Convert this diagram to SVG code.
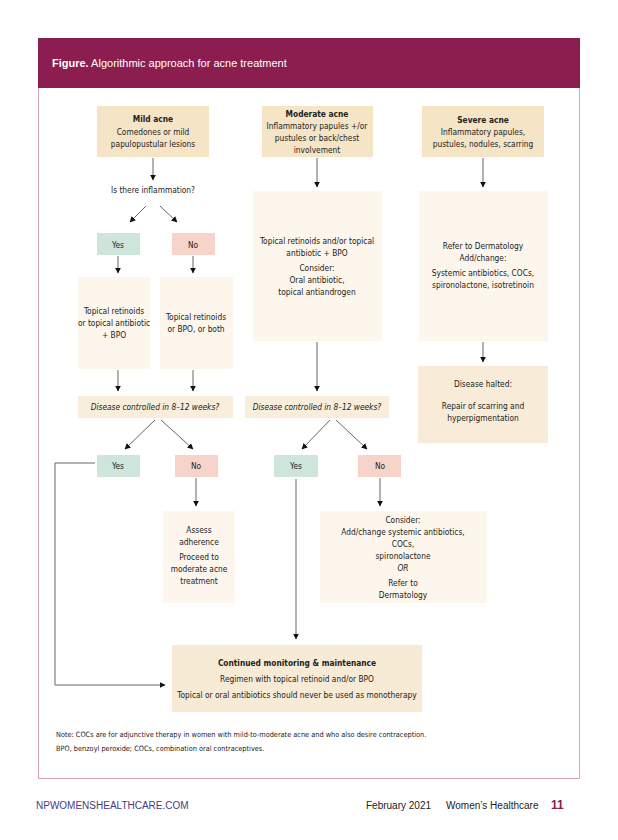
<svg xmlns="http://www.w3.org/2000/svg" width="618" height="840" viewBox="0 0 618 840">
<style>
text{font-family:"Liberation Sans Narrow","DejaVu Sans Condensed","Liberation Sans",Arial,sans-serif;font-size:8.3px;fill:#222;text-anchor:middle}
.b{font-weight:bold}
.i{font-style:italic}
.tan{fill:#f5e5c6}
.cream{fill:#fdf6ec}
.dc{fill:#f8eedb}
.yes{fill:#cde5da}
.no{fill:#f7d4ca}
.ln{stroke:#666;stroke-width:1;fill:none}
.note{text-anchor:start;font-size:7.3px}
.foot{font-family:"Liberation Sans",Arial,sans-serif;font-size:10px;text-anchor:start}
</style>
<defs>
<marker id="ah" viewBox="0 0 10 10" refX="9" refY="5" markerWidth="6" markerHeight="6" orient="auto" markerUnits="userSpaceOnUse">
<path d="M0,0 L10,5 L0,10 z" fill="#111"/>
</marker>
</defs>
<rect width="618" height="840" fill="#fff"/>
<rect x="38.5" y="38.5" width="541" height="740" fill="none" stroke="#dba3bb" stroke-width="1"/>
<rect x="38" y="38" width="542" height="50" fill="#8b1e4f"/>
<text x="52" y="67" style="text-anchor:start;font-family:'Liberation Sans',Arial,sans-serif;font-size:11px;fill:#fff"><tspan font-weight="bold">Figure.</tspan> Algorithmic approach for acne treatment</text>

<g id="mild">
<rect class="tan" x="97" y="106" width="112" height="51"/>
<text x="153" y="122" class="b">Mild acne</text>
<text x="153" y="135">Comedones or mild</text>
<text x="153" y="147">papulopustular lesions</text>
</g>
<g id="inflam"><text x="153" y="193">Is there inflammation?</text></g>
<g id="yes1"><rect class="yes" x="97" y="233" width="43" height="22"/><text x="118" y="248">Yes</text></g>
<g id="no1"><rect class="no" x="172" y="233" width="43" height="22"/><text x="193" y="248">No</text></g>
<g id="top1">
<rect class="cream" x="78" y="277" width="72" height="92"/>
<text x="114" y="314">Topical retinoids</text>
<text x="114" y="326">or topical antibiotic</text>
<text x="114" y="338">+ BPO</text>
</g>
<g id="top2">
<rect class="cream" x="160" y="277" width="73" height="92"/>
<text x="196" y="320">Topical retinoids</text>
<text x="196" y="332">or BPO, or both</text>
</g>
<g id="dc1"><rect class="dc" x="78" y="396" width="155" height="22"/><text x="155" y="410" class="i">Disease controlled in 8–12 weeks?</text></g>
<g id="yes2"><rect class="yes" x="97" y="455" width="43" height="22"/><text x="118" y="469">Yes</text></g>
<g id="no2"><rect class="no" x="175" y="455" width="43" height="22"/><text x="196" y="469">No</text></g>
<g id="assess">
<rect class="cream" x="163" y="511" width="72" height="92"/>
<text x="199" y="533">Assess</text>
<text x="199" y="545">adherence</text>
<text x="199" y="560">Proceed to</text>
<text x="199" y="572">moderate acne</text>
<text x="199" y="584">treatment</text>
</g>

<g id="moderate">
<rect class="tan" x="262" y="106" width="111" height="51"/>
<text x="317" y="117" class="b">Moderate acne</text>
<text x="317" y="129">Inflammatory papules +/or</text>
<text x="317" y="141">pustules or back/chest</text>
<text x="317" y="153">involvement</text>
</g>
<g id="modtx">
<rect class="cream" x="253" y="191" width="129" height="150"/>
<text x="317" y="244">Topical retinoids and/or topical</text>
<text x="317" y="256">antibiotic + BPO</text>
<text x="317" y="271">Consider:</text>
<text x="317" y="283">Oral antibiotic,</text>
<text x="317" y="295">topical antiandrogen</text>
</g>
<g id="dc2"><rect class="dc" x="245" y="396" width="144" height="22"/><text x="317" y="410" class="i">Disease controlled in 8–12 weeks?</text></g>
<g id="yes3"><rect class="yes" x="274" y="455" width="44" height="22"/><text x="296" y="469">Yes</text></g>
<g id="no3"><rect class="no" x="358" y="455" width="43" height="22"/><text x="380" y="469">No</text></g>
<g id="consider">
<rect class="cream" x="320" y="511" width="167" height="92"/>
<text x="403" y="523">Consider:</text>
<text x="403" y="535">Add/change systemic antibiotics,</text>
<text x="403" y="547">COCs,</text>
<text x="403" y="559">spironolactone</text>
<text x="403" y="571" class="i">OR</text>
<text x="403" y="586">Refer to</text>
<text x="403" y="598">Dermatology</text>
</g>

<g id="severe">
<rect class="tan" x="422" y="106" width="122" height="51"/>
<text x="483" y="123" class="b">Severe acne</text>
<text x="483" y="135">Inflammatory papules,</text>
<text x="483" y="147">pustules, nodules, scarring</text>
</g>
<g id="sevtx">
<rect class="cream" x="419" y="191" width="129" height="150"/>
<text x="483" y="249">Refer to Dermatology</text>
<text x="483" y="261">Add/change:</text>
<text x="483" y="276">Systemic antibiotics, COCs,</text>
<text x="483" y="288">spironolactone, isotretinoin</text>
</g>
<g id="halted">
<rect x="418" y="366" width="130" height="77" style="fill:#f8ecd8"/>
<text x="483" y="387">Disease halted:</text>
<text x="483" y="409">Repair of scarring and</text>
<text x="483" y="421">hyperpigmentation</text>
</g>

<g id="continued">
<rect x="172" y="645" width="250" height="67" style="fill:#f7ebd6"/>
<text x="297" y="666" class="b">Continued monitoring &amp; maintenance</text>
<text x="297" y="682">Regimen with topical retinoid and/or BPO</text>
<text x="297" y="698">Topical or oral antibiotics should never be used as monotherapy</text>
</g>

<g id="connectors" class="ln" marker-end="url(#ah)">
<line x1="153" y1="158" x2="153" y2="180"/>
<line x1="146" y1="206" x2="130" y2="222"/>
<line x1="160" y1="206" x2="177" y2="222"/>
<line x1="118" y1="256" x2="118" y2="273"/>
<line x1="193" y1="256" x2="193" y2="273"/>
<line x1="118" y1="370" x2="118" y2="391"/>
<line x1="193" y1="370" x2="193" y2="391"/>
<line x1="155" y1="420" x2="125" y2="449"/>
<line x1="161" y1="420" x2="193" y2="449"/>
<line x1="196" y1="478" x2="196" y2="506"/>
<polyline points="95,463 55,463 55,685 165,685"/>
<line x1="317" y1="158" x2="317" y2="187"/>
<line x1="317" y1="342" x2="317" y2="391"/>
<line x1="330" y1="420" x2="302" y2="449"/>
<line x1="336" y1="420" x2="367" y2="449"/>
<line x1="380" y1="478" x2="380" y2="506"/>
<line x1="296" y1="479" x2="296" y2="639"/>
<line x1="483" y1="158" x2="483" y2="187"/>
<line x1="483" y1="342" x2="483" y2="362"/>
</g>

<text x="56" y="737" class="note">Note: COCs are for adjunctive therapy in women with mild-to-moderate acne and who also desire contraception.</text>
<text x="56" y="751" class="note">BPO, benzoyl peroxide; COCs, combination oral contraceptives.</text>

<text x="36" y="809" class="foot" style="fill:#4a3a80">NPWOMENSHEALTHCARE.COM</text>
<text x="366" y="809" class="foot">February 2021</text>
<text x="446" y="809" class="foot">Women’s Healthcare</text>
<text x="551" y="809" class="foot" style="fill:#8b1e4f;font-size:12px;font-weight:bold">11</text>
</svg>
